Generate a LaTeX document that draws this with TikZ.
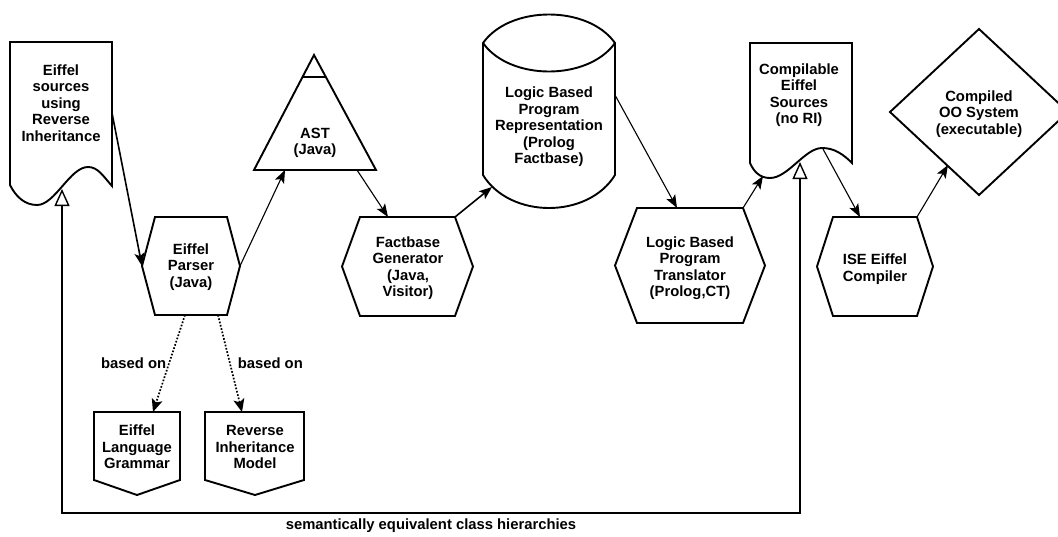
\documentclass[tikz,border=0pt]{standalone}
\usepackage{fontspec}
\setmainfont{Liberation Sans}
\usetikzlibrary{arrows.meta,calc}

% elongated hexagon: name, centre x, centre y, half width, half height, inset of the flat edges
\newcommand\hexagonshape[6]{%
  \draw[outline] ({#2-#4+#6},{#3-#5}) coordinate (#1-nw)
    -- ({#2+#4-#6},{#3-#5}) coordinate (#1-ne)
    -- ({#2+#4},{#3}) coordinate (#1-e)
    -- ({#2+#4-#6},{#3+#5}) coordinate (#1-se)
    -- ({#2-#4+#6},{#3+#5}) coordinate (#1-sw)
    -- ({#2-#4},{#3}) coordinate (#1-w) -- cycle;}

\begin{document}
\begin{tikzpicture}[x=1pt,y=-1pt,
  outline/.style={draw=black,line width=1.9pt,line join=miter},
  txt/.style={align=center,inner sep=0pt,font=\bfseries\fontsize{14.8}{16.5}\selectfont},
  flow/.style={draw=black,line width=1.1pt,-{Stealth[length=13pt,width=10pt,inset=3pt]}},
  boldflow/.style={flow,line width=1.6pt},
  basedon/.style={draw=black,line width=1.7pt,dash pattern=on 1.7pt off 1.7pt,
    -{Stealth[length=13pt,width=11pt,inset=3pt]}},
  loopback/.style={draw=black,line width=1.4pt,
    {Triangle[open,length=17pt,width=15pt]}-{Triangle[open,length=17pt,width=15pt]}}]

\clip (0,0) rectangle (1058,536);
\fill[white] (0,0) rectangle (1058,536);

% ---- Eiffel sources (document shape)
\draw[outline] (10,42) -- (112,42) -- (112,186)
  .. controls (103,176) and (98,167) .. (88,167)
  .. controls (70,167) and (55,205) .. (37,205)
  .. controls (25,205) and (16,197) .. (10,185) -- cycle;
\node[txt] (esrc) at (61,103) {Eiffel\\sources\\using\\Reverse\\Inheritance};
\coordinate (esrc-out) at (112,113);
\coordinate (esrc-in) at (62,189);

% ---- Eiffel parser
\hexagonshape{parser}{191}{266}{49}{49}{13}
\node[txt] (parser) at (191,267) {Eiffel\\Parser\\(Java)};
\coordinate (parser-b1) at (185,315);
\coordinate (parser-b2) at (218,315);

% ---- AST (triangle)
\draw[outline] (314,55) -- (376,170) -- (254,170) -- cycle;
\draw[outline] (302.5,77) -- (326,77);
\node[txt] (ast) at (315,143) {AST\\(Java)};
\coordinate (ast-in) at (285,170);
\coordinate (ast-out) at (357,170);

% ---- Factbase generator
\hexagonshape{fgen}{407.5}{266.5}{65.5}{49.5}{18}
\node[txt] (fgen) at (408,268) {Factbase\\Generator\\(Java,\\Visitor)};
\coordinate (fgen-in) at (388,217);

% ---- Logic based program representation (cylinder)
\draw[outline] (483,43) .. controls (510,5) and (588,5) .. (615,43)
  -- (615,175) .. controls (588,219) and (510,219) .. (483,175) -- cycle;
\draw[outline] (483,43) .. controls (510,81) and (588,81) .. (615,43);
\node[txt] (lbpr) at (549,127) {Logic Based\\Program\\Representation\\(Prolog\\Factbase)};
\coordinate (lbpr-in) at (492,187);
\coordinate (lbpr-out) at (615,95);

% ---- Logic based program translator
\hexagonshape{lbpt}{690}{265.5}{75}{57.5}{22}
\node[txt] (lbpt) at (690,268) {Logic Based\\Program\\Translator\\(Prolog,CT)};
\coordinate (lbpt-in) at (677,208);

% ---- Compilable Eiffel sources (document shape)
\draw[outline] (750,43) -- (852,43) -- (852,163)
  .. controls (843,154) and (834,148) .. (822,148)
  .. controls (805,148) and (788,178) .. (770,178)
  .. controls (760,178) and (754,172) .. (750,163) -- cycle;
\node[txt] (comp) at (799,95) {Compilable\\Eiffel\\Sources\\(no RI)};
\coordinate (comp-in) at (763,176);
\coordinate (comp-out) at (823,149);
\coordinate (comp-back) at (800,162);

% ---- ISE Eiffel compiler
\hexagonshape{ise}{875}{266.5}{58}{49.5}{16}
\node[txt] (ise) at (875,269) {ISE Eiffel\\Compiler};
\coordinate (ise-in) at (860,217);

% ---- Compiled OO system (diamond)
\draw[outline] (979,29) -- (1068,112) -- (979,195) -- (890,112) -- cycle;
\node[txt] (oosys) at (979,114) {Compiled\\OO System\\(executable)};
\coordinate (oosys-in) at (948,165);

% ---- grammar and model (off-page shapes)
\draw[outline] (94,412) -- (180,412) -- (180,480) -- (137,495) -- (94,480) -- cycle;
\node[txt] (grammar) at (137,447) {Eiffel\\Language\\Grammar};
\coordinate (grammar-in) at (153,412);
\draw[outline] (205,412) -- (304,412) -- (304,480) -- (255,495) -- (205,480) -- cycle;
\node[txt] (rimodel) at (255,447) {Reverse\\Inheritance\\Model};
\coordinate (rimodel-in) at (242,412);

\coordinate (loopbase) at (0,513);

% ---- connectors
\draw[boldflow] (esrc-out) -- (parser-w);
\draw[flow] (parser-e) -- (ast-in);
\draw[flow] (ast-out) -- (fgen-in);
\draw[boldflow] (fgen-ne) -- (lbpr-in);
\draw[flow] (lbpr-out) -- (lbpt-in);
\draw[flow] (lbpt-ne) -- (comp-in);
\draw[flow] (comp-out) -- (ise-in);
\draw[flow] (ise-ne) -- (oosys-in);

\draw[basedon] (parser-b1) -- node[txt,left=2pt] (based1) {based on} (grammar-in);
\draw[basedon] (parser-b2) -- node[txt,right=7pt] (based2) {based on} (rimodel-in);

\draw[loopback] (comp-back) -- (comp-back |- loopbase)
  -- node[txt,below=5pt] (semeq) {semantically equivalent class hierarchies} (esrc-in |- loopbase)
  -- (esrc-in);
\end{tikzpicture}
\end{document}
